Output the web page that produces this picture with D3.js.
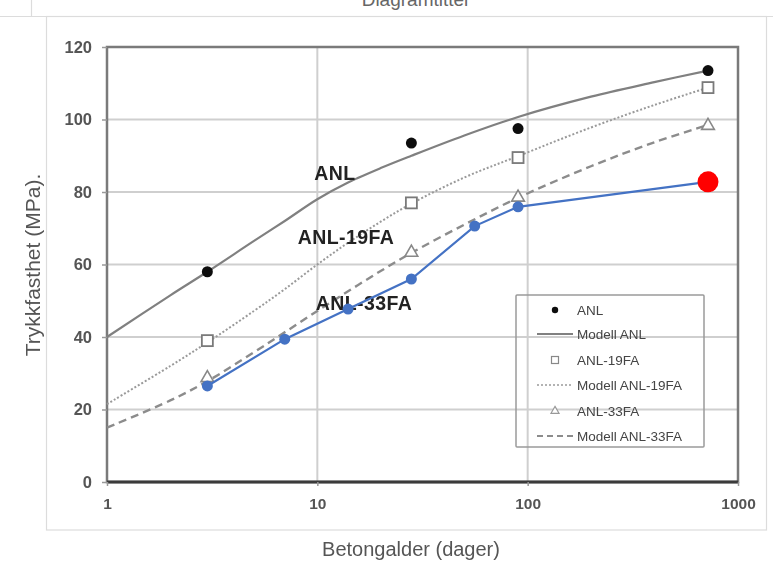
<!DOCTYPE html>
<html>
<head>
<meta charset="utf-8">
<script src="https://cdn.jsdelivr.net/npm/d3@7"></script>
<style>
  body { margin: 0; background: #fff; }
  text { font-family: "Liberation Sans", Arial, sans-serif; }
</style>
</head>
<body>
<script>
// chart data
var testAges = [3, 28, 90, 720];
var anlValues = [58, 93.5, 97.5, 113.5];
var anl19Values = [39, 77, 89.5, 108.8];
var anl33Values = [28.7, 63.3, 78.5, 98.3];

var modelAges = [1, 2, 3, 5, 7, 10, 14, 20, 28, 50, 90, 200, 400, 720];
var modelAnl = [40, 51.5, 58, 66.5, 72, 78, 82.6, 86.6, 90, 95.6, 100.7, 106.3, 110.3, 113.5];
var modelAnl19 = [21.5, 32, 38.5, 47.2, 53.2, 60, 66, 71.8, 76.8, 84, 89.9, 97.8, 104, 108.8];
var modelAnl33 = [15, 22.5, 27.8, 35.8, 41.3, 47.2, 52.6, 58.2, 63.2, 71, 78.4, 87.1, 93.7, 98.5];

var blueAges = [3, 7, 14, 28, 56, 90, 720];
var blueValues = [26.5, 39.4, 47.7, 56, 70.6, 75.9, 82.8];

var xTicks = [1, 10, 100, 1000];
var yTicks = [0, 20, 40, 60, 80, 100, 120];
var legendLabels = ["ANL", "Modell ANL", "ANL-19FA", "Modell ANL-19FA", "ANL-33FA", "Modell ANL-33FA"];

var width = 773, height = 575;
var svg = d3.select("body").append("svg")
  .attr("width", width)
  .attr("height", height);

var defs = svg.append("defs");
defs.append("filter").attr("id", "soft")
  .append("feGaussianBlur").attr("stdDeviation", 0.55);

// outer chart border (chart is cut off at the top)
var frame = svg.append("g").attr("stroke", "#dcdcdc").attr("fill", "none").attr("stroke-width", 1.2);
frame.append("line").attr("x1", 0).attr("x2", width).attr("y1", 16.5).attr("y2", 16.5);
frame.append("line").attr("x1", 31.5).attr("x2", 31.5).attr("y1", 0).attr("y2", 16);
frame.append("rect").attr("x", 46.5).attr("y", 16.5).attr("width", 720).attr("height", 513.5);

// title, only its lower part is visible
svg.append("text")
  .attr("x", 415).attr("y", 6)
  .attr("text-anchor", "middle")
  .attr("font-size", 19)
  .attr("fill", "#666")
  .text("Diagramtittel");

var x = d3.scaleLog().domain([1, 1000]).range([107, 738]);
var y = d3.scaleLinear().domain([0, 120]).range([482, 47]);

var base = svg.append("g").attr("filter", "url(#soft)");

// gridlines
base.append("g")
  .selectAll("line").data(yTicks.slice(1, -1)).enter().append("line")
  .attr("x1", x(1)).attr("x2", x(1000))
  .attr("y1", function(d) { return y(d); }).attr("y2", function(d) { return y(d); })
  .attr("stroke", "#cfcfcf").attr("stroke-width", 2);
base.append("g")
  .selectAll("line").data([10, 100]).enter().append("line")
  .attr("y1", y(0)).attr("y2", y(120))
  .attr("x1", function(d) { return x(d); }).attr("x2", function(d) { return x(d); })
  .attr("stroke", "#cfcfcf").attr("stroke-width", 2);

// plot frame
base.append("rect")
  .attr("x", x(1)).attr("y", y(120))
  .attr("width", x(1000) - x(1)).attr("height", y(0) - y(120))
  .attr("fill", "none").attr("stroke", "#7a7a7a").attr("stroke-width", 2.5);
base.append("line")
  .attr("x1", x(1)).attr("x2", x(1000)).attr("y1", y(0)).attr("y2", y(0))
  .attr("stroke", "#3a3a3a").attr("stroke-width", 3);

// axes
var yAxis = d3.axisLeft(y).tickValues(yTicks).tickSize(5).tickPadding(10)
  .tickFormat(d3.format("d"));
var gy = base.append("g").attr("transform", "translate(" + x(1) + ",0)").call(yAxis);
gy.select(".domain").remove();
gy.selectAll(".tick line").attr("stroke", "#999").attr("stroke-width", 1.5);
gy.selectAll(".tick text")
  .attr("font-size", 16.5).attr("font-weight", "bold").attr("fill", "#555")
  .style("font-family", "'Liberation Sans', Arial, sans-serif");

var xAxis = d3.axisBottom(x).tickValues(xTicks).tickSize(4).tickPadding(12)
  .tickFormat(d3.format("d"));
var gx = base.append("g").attr("transform", "translate(0," + y(0) + ")").call(xAxis);
gx.select(".domain").remove();
gx.selectAll(".tick line").attr("stroke", "#999").attr("stroke-width", 1.5);
gx.selectAll(".tick text")
  .attr("font-size", 15.5).attr("font-weight", "bold").attr("fill", "#555")
  .style("font-family", "'Liberation Sans', Arial, sans-serif");

// axis titles
base.append("text")
  .attr("transform", "translate(40,265) rotate(-90)")
  .attr("text-anchor", "middle")
  .attr("font-size", 21).attr("fill", "#555")
  .text("Trykkfasthet (MPa).");
base.append("text")
  .attr("x", 411).attr("y", 556)
  .attr("text-anchor", "middle")
  .attr("font-size", 20).attr("fill", "#555")
  .text("Betongalder (dager)");

// model curves
var line = d3.line()
  .x(function(d) { return x(d[0]); })
  .y(function(d) { return y(d[1]); })
  .curve(d3.curveCatmullRom.alpha(0.5));

var models = [
  { values: modelAnl, stroke: "#808080", dash: null, w: 2.2 },
  { values: modelAnl19, stroke: "#9a9a9a", dash: "2,2", w: 2 },
  { values: modelAnl33, stroke: "#8c8c8c", dash: "8,5", w: 2.4 }
];
models.forEach(function(m) {
  base.append("path")
    .datum(d3.zip(modelAges, m.values))
    .attr("d", line)
    .attr("fill", "none")
    .attr("stroke", m.stroke)
    .attr("stroke-width", m.w)
    .attr("stroke-dasharray", m.dash);
});

// measured points
base.selectAll("circle.anl").data(d3.zip(testAges, anlValues)).enter().append("circle")
  .attr("cx", function(d) { return x(d[0]); })
  .attr("cy", function(d) { return y(d[1]); })
  .attr("r", 5.5).attr("fill", "#111");

base.selectAll("rect.anl19").data(d3.zip(testAges, anl19Values)).enter().append("rect")
  .attr("x", function(d) { return x(d[0]) - 5.5; })
  .attr("y", function(d) { return y(d[1]) - 5.5; })
  .attr("width", 11).attr("height", 11)
  .attr("fill", "#fff").attr("stroke", "#7a7a7a").attr("stroke-width", 1.8);

var tri = d3.symbol().type(d3.symbolTriangle).size(70);
base.selectAll("path.anl33").data(d3.zip(testAges, anl33Values)).enter().append("path")
  .attr("transform", function(d) { return "translate(" + x(d[0]) + "," + y(d[1]) + ")"; })
  .attr("d", tri)
  .attr("fill", "#fff").attr("stroke", "#888").attr("stroke-width", 1.6);

// curve labels
var labels = [["ANL", 335, 180], ["ANL-19FA", 346, 244], ["ANL-33FA", 364, 310]];
base.selectAll("text.lbl").data(labels).enter().append("text")
  .attr("x", function(d) { return d[1]; })
  .attr("y", function(d) { return d[2]; })
  .attr("text-anchor", "middle")
  .attr("font-size", 19.5).attr("font-weight", "bold").attr("fill", "#222")
  .attr("letter-spacing", 0.4)
  .text(function(d) { return d[0]; });

// legend
var lg = base.append("g");
lg.append("rect")
  .attr("x", 516).attr("y", 295).attr("width", 188).attr("height", 152)
  .attr("fill", "none").attr("stroke", "#9a9a9a").attr("stroke-width", 1.5).attr("rx", 1);
var legendY = [310, 334, 360, 385, 411, 436];
var items = lg.selectAll("g.item").data(legendLabels).enter().append("g")
  .attr("transform", function(d, i) { return "translate(0," + legendY[i] + ")"; });
items.append("text")
  .attr("x", 577).attr("y", 4.5)
  .attr("font-size", 13.5).attr("fill", "#444")
  .text(function(d) { return d; });
items.each(function(d, i) {
  var g = d3.select(this);
  if (i === 0) g.append("circle").attr("cx", 555).attr("r", 3.2).attr("fill", "#111");
  if (i === 2) g.append("rect").attr("x", 551.5).attr("y", -3.5).attr("width", 7).attr("height", 7)
    .attr("fill", "#fff").attr("stroke", "#888").attr("stroke-width", 1.2);
  if (i === 4) g.append("path").attr("transform", "translate(555,0)")
    .attr("d", d3.symbol().type(d3.symbolTriangle).size(28))
    .attr("fill", "#fff").attr("stroke", "#999").attr("stroke-width", 1.2);
  if (i % 2 === 1) {
    var m = models[(i - 1) / 2];
    g.append("line").attr("x1", 537).attr("x2", 573)
      .attr("stroke", m.stroke).attr("stroke-width", m.w * 0.8)
      .attr("stroke-dasharray", m.dash === "8,5" ? "6,4" : m.dash);
  }
});

// blue series on top
var blueLine = d3.line()
  .x(function(d) { return x(d[0]); })
  .y(function(d) { return y(d[1]); });
var blueData = d3.zip(blueAges, blueValues);
svg.append("path")
  .datum(blueData)
  .attr("d", blueLine)
  .attr("fill", "none").attr("stroke", "#4472c4").attr("stroke-width", 2.2);
svg.selectAll("circle.blue").data(blueData.slice(0, -1)).enter().append("circle")
  .attr("cx", function(d) { return x(d[0]); })
  .attr("cy", function(d) { return y(d[1]); })
  .attr("r", 5.5).attr("fill", "#4472c4");
svg.append("circle")
  .datum(blueData[blueData.length - 1])
  .attr("cx", function(d) { return x(d[0]); })
  .attr("cy", function(d) { return y(d[1]); })
  .attr("r", 10.5).attr("fill", "#ff0000");
</script>
</body>
</html>
